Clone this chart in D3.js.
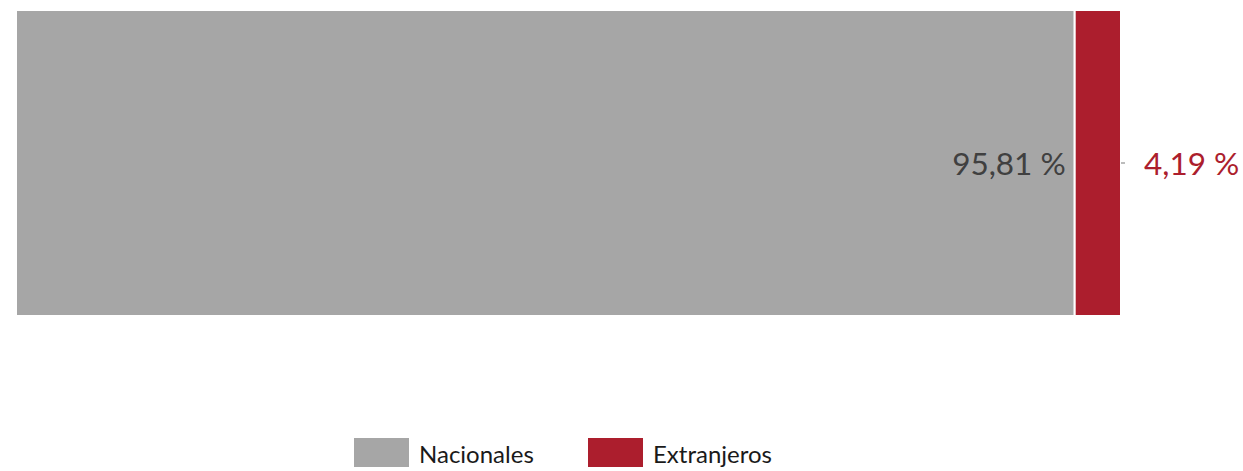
<!DOCTYPE html>
<html><head><meta charset="utf-8">
<script src="https://cdn.jsdelivr.net/npm/d3@7"></script>
<style>body{margin:0;background:#fff}svg{display:block}</style>
</head><body>
<svg id="c" width="1243" height="471"></svg>
<script>
const categories = ["Nacionales", "Extranjeros"];
const values = [95.81, 4.19];
const labels = ["95,81 %", "4,19 %"];
const colors = ["#A6A6A6", "#AC1E2D"];
const labelColors = ["#404040", "#AC1E2D"];

const svg = d3.select("#c");
const font = "Lato, 'Open Sans', sans-serif";
const x = d3.scaleLinear().domain([0, 100]).range([16, 1121]);
const y = d3.scaleBand().domain(["total"]).range([10, 316]).padding(0);

let cum = 0;
const segs = values.map((v, i) => { const s = {cat: categories[i], x0: cum, x1: cum + v, i}; cum += v; return s; });

svg.selectAll("rect.seg").data(segs).join("rect")
  .attr("class", "seg")
  .attr("x", d => x(d.x0))
  .attr("y", y("total"))
  .attr("width", d => x(d.x1) - x(d.x0))
  .attr("height", y.bandwidth())
  .attr("fill", d => colors[d.i])
  .attr("stroke", "#fff").attr("stroke-width", 2);

const cy = y("total") + y.bandwidth() / 2;
svg.append("text")
  .attr("x", x(segs[0].x1) - 9).attr("y", cy)
  .attr("text-anchor", "end").attr("dominant-baseline", "central")
  .attr("font-family", font).attr("font-size", 31.5)
  .attr("fill", labelColors[0]).text(labels[0]);
svg.append("line")
  .attr("x1", x(segs[1].x1)).attr("x2", x(segs[1].x1) + 4)
  .attr("y1", cy).attr("y2", cy)
  .attr("stroke", "#A6A6A6").attr("stroke-width", 1.5);
svg.append("text")
  .attr("x", x(segs[1].x1) + 23).attr("y", cy)
  .attr("text-anchor", "start").attr("dominant-baseline", "central")
  .attr("font-family", font).attr("font-size", 31.5)
  .attr("fill", labelColors[1]).text(labels[1]);

const legX = [354, 588];
const lg = svg.selectAll("g.leg").data(categories).join("g").attr("class", "leg")
  .attr("transform", (d, i) => `translate(${legX[i]},438)`);
lg.append("rect").attr("width", 55).attr("height", 29).attr("fill", (d, i) => colors[i]);
lg.append("text").attr("x", 65).attr("y", 15).attr("dominant-baseline", "central")
  .attr("font-family", font).attr("font-size", 24).attr("fill", "#1a1a1a").text(d => d);
</script>
</body></html>
